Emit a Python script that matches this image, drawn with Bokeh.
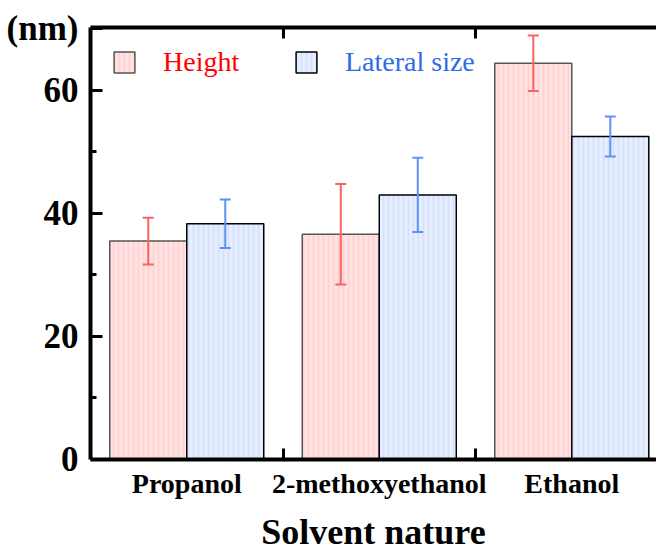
from bokeh.plotting import figure
from bokeh.models import (ColumnDataSource, Whisker, TeeHead, Legend, LegendItem,
                          FixedTicker, LinearAxis, Range1d)
from bokeh.transform import dodge
from bokeh.embed import file_html
from bokeh.resources import INLINE

solvents = ["Propanol", "2-methoxyethanol", "Ethanol"]
height = [35.5, 36.6, 64.4]
height_err = [3.8, 8.15, 4.5]
lateral = [38.3, 43.0, 52.5]
lateral_err = [3.95, 6.05, 3.25]
y_ticks = [0, 20, 40, 60]
y_minor = [10, 30, 50]
y_top = 70.2
unit_label = "(nm)"
series_names = ["Height", "Lateral size"]

SERIF = "Liberation Serif"
idx = list(range(len(solvents)))
src = ColumnDataSource(dict(
    idx=idx, height=height, lateral=lateral,
    h_up=[v + e for v, e in zip(height, height_err)],
    h_lo=[v - e for v, e in zip(height, height_err)],
    l_up=[v + e for v, e in zip(lateral, lateral_err)],
    l_lo=[v - e for v, e in zip(lateral, lateral_err)],
))

p = figure(width=656, height=554, x_range=Range1d(-0.5, 2.44), y_range=Range1d(0, y_top),
           output_backend="svg", toolbar_location=None,
           min_border_left=90, min_border_right=0, min_border_top=27, min_border_bottom=0)
p.outline_line_color = None
p.xgrid.visible = False
p.ygrid.visible = False
p.background_fill_color = "white"
p.border_fill_color = "white"

rh = p.vbar(x=dodge("idx", -0.2, range=p.x_range), top="height", width=0.4, bottom=0, source=src,
            fill_color="#ffe3e3", line_color="#555555", line_width=1.5,
            hatch_pattern="vertical_line", hatch_color="#ffd2d2", hatch_scale=5, hatch_weight=2)
rl = p.vbar(x=dodge("idx", 0.2, range=p.x_range), top="lateral", width=0.4, bottom=0, source=src,
            fill_color="#e7eefd", line_color="black", line_width=1.5,
            hatch_pattern="vertical_line", hatch_color="#d6e2fb", hatch_scale=5, hatch_weight=2)

red = "#ff6060"
blue = "#5f92f5"
wh = Whisker(base=dodge("idx", -0.2, range=p.x_range), upper="h_up", lower="h_lo", source=src,
             line_color=red, line_width=2, level="overlay",
             upper_head=TeeHead(size=11, line_color=red, line_width=2),
             lower_head=TeeHead(size=11, line_color=red, line_width=2))
wl = Whisker(base=dodge("idx", 0.2, range=p.x_range), upper="l_up", lower="l_lo", source=src,
             line_color=blue, line_width=2, level="overlay",
             upper_head=TeeHead(size=11, line_color=blue, line_width=2),
             lower_head=TeeHead(size=11, line_color=blue, line_width=2))
p.add_layout(wh)
p.add_layout(wl)

# bottom axis
xb = p.xaxis[0]
xb.ticker = FixedTicker(ticks=idx, minor_ticks=[0.5, 1.5])
xb.major_label_overrides = {i: s for i, s in zip(idx, solvents)}
xb.major_tick_in = 0
xb.major_tick_out = 0
xb.minor_tick_in = 11
xb.minor_tick_out = 0
xb.minor_tick_line_width = 3
xb.axis_line_width = 4
xb.major_label_text_font = SERIF
xb.major_label_text_font_style = "bold"
xb.major_label_text_font_size = "28px"
xb.major_label_text_color = "black"
xb.major_label_standoff = 8
xb.axis_label = "Solvent nature"
xb.axis_label_text_font = SERIF
xb.axis_label_text_font_style = "bold"
xb.axis_label_text_font_size = "36px"
xb.axis_label_text_color = "black"
xb.axis_label_standoff = 10

# top axis (ticks only)
xt = LinearAxis(ticker=FixedTicker(ticks=[], minor_ticks=[0.5, 1.5]),
                major_tick_in=0, major_tick_out=0, minor_tick_in=11, minor_tick_out=0,
                minor_tick_line_width=3, axis_line_width=4, major_label_standoff=0)
p.add_layout(xt, "above")

# left axis, with the unit shown as a label at the top of the axis
unit_pos = y_top - 0.1
yl = p.yaxis[0]
yl.ticker = FixedTicker(ticks=y_ticks + [unit_pos], minor_ticks=y_minor)
yl.major_label_overrides = {unit_pos: unit_label}
yl.major_tick_in = 12
yl.major_tick_out = 0
yl.minor_tick_in = 6
yl.minor_tick_out = 0
yl.major_tick_line_width = 3
yl.minor_tick_line_width = 3
yl.axis_line_width = 4
yl.major_label_text_font = SERIF
yl.major_label_text_font_style = "bold"
yl.major_label_text_font_size = "35px"
yl.major_label_text_color = "black"
yl.major_label_standoff = 12

# legends
for r, name, col, loc in [(rh, series_names[0], "#ff0000", (21, 381)),
                          (rl, series_names[1], "#2f6be8", (203, 381))]:
    lg = Legend(items=[LegendItem(label=name, renderers=[r])], location=loc,
                glyph_width=26, glyph_height=26, label_standoff=26, padding=0, margin=0,
                border_line_color=None, background_fill_alpha=0,
                label_text_font=SERIF, label_text_font_size="28px", label_text_color=col)
    p.add_layout(lg)

open("out.html", "w").write(file_html(p, INLINE))
